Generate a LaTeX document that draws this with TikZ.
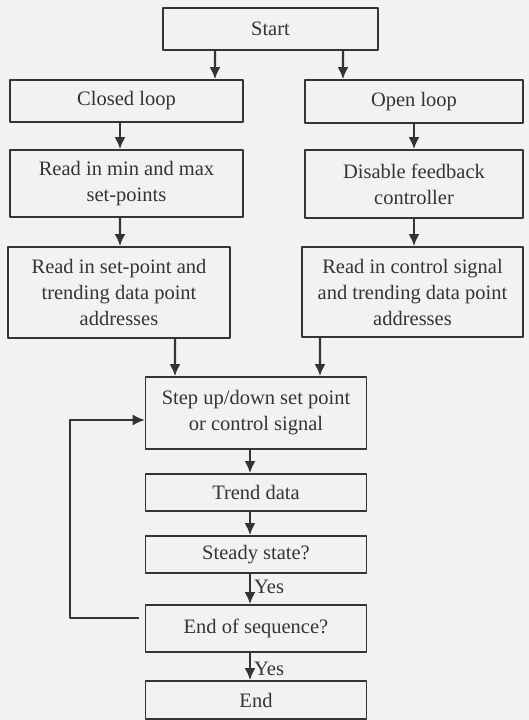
\documentclass[tikz,border=0pt]{standalone}
\usepackage{fontspec}
\setmainfont{Liberation Serif}
\usetikzlibrary{arrows.meta}
\definecolor{ink}{rgb}{0.2,0.2,0.22}
\definecolor{paper}{rgb}{0.95,0.95,0.95}

\begin{document}
\begin{tikzpicture}[>={Latex[length=12bp,width=11bp]},line join=bevel,
  box/.style={draw=ink,line width=1.6bp,inner sep=0pt,align=center,text=ink,
    font=\fontsize{20.5bp}{26bp}\selectfont},
  flow/.style={->,draw=ink,line width=2.4bp},
  back/.style={->,draw=ink,line width=1.6bp},
  yes/.style={text=ink,font=\fontsize{20.5bp}{24bp}\selectfont,inner sep=1bp}]
\fill [paper] (0bp,0bp) rectangle (529bp,720bp);
\useasboundingbox (0bp,0bp) rectangle (529bp,720bp);
%%
  % Node: start
  \node [box,minimum width=215bp,minimum height=42bp] (start) at (270.5bp,691bp) {Start};
  % Node: closed
  \node [box,minimum width=233bp,minimum height=42bp] (closed) at (126.5bp,619bp) {Closed loop};
  % Node: open
  \node [box,minimum width=218bp,minimum height=43bp] (open) at (414bp,618.5bp) {Open loop};
  % Node: minmax
  \node [box,minimum width=233bp,minimum height=67bp] (minmax) at (126.5bp,536.5bp) {Read in min and max\\set-points};
  % Node: disable
  \node [box,minimum width=218bp,minimum height=68bp] (disable) at (414bp,536bp) {Disable feedback\\controller};
  % Node: readsp
  \node [box,minimum width=222bp,minimum height=91bp] (readsp) at (119bp,427.5bp) {Read in set-point and\\trending data point\\addresses};
  % Node: readcs
  \node [box,minimum width=221bp,minimum height=90bp] (readcs) at (412.5bp,428bp) {Read in control signal\\and trending data point\\addresses};
  % Node: step
  \node [box,minimum width=221bp,minimum height=72bp] (step) at (256bp,307bp) {Step up/down set point\\or control signal};
  % Node: trend
  \node [box,minimum width=221bp,minimum height=37bp] (trend) at (256bp,227.5bp) {Trend data};
  % Node: steady
  \node [box,minimum width=221bp,minimum height=37bp] (steady) at (256bp,165.5bp) {Steady state?};
  % Node: endseq
  \node [box,minimum width=221bp,minimum height=47bp] (endseq) at (256bp,91.5bp) {End of sequence?};
  % Node: end
  \node [box,minimum width=221bp,minimum height=38bp] (end) at (256bp,20bp) {End};
%
  % Edge: start -> closed
  \draw [flow] ([xshift=-55.5bp]start.south) -- ([xshift=88.5bp]closed.north);
  % Edge: start -> open
  \draw [flow] ([xshift=72.5bp]start.south) -- ([xshift=-71bp]open.north);
  % Edge: closed -> minmax
  \draw [flow] ([xshift=-6.5bp]closed.south) -- ([xshift=-6.5bp]minmax.north);
  % Edge: open -> disable
  \draw [flow] (open.south) -- (open.south |- disable.north);
  % Edge: minmax -> readsp
  \draw [flow] ([xshift=-6.5bp]minmax.south) -- ([xshift=1bp]readsp.north);
  % Edge: disable -> readcs
  \draw [flow] (disable.south) -- (disable.south |- readcs.north);
  % Edge: readsp -> step
  \draw [flow] ([xshift=56bp]readsp.south) -- ([xshift=-81bp]step.north);
  % Edge: readcs -> step
  \draw [flow] ([xshift=-92.5bp]readcs.south) -- ([xshift=64bp]step.north);
  % Edge: step -> trend
  \draw [flow] ([xshift=-6bp]step.south) -- ([xshift=-6bp]trend.north);
  % Edge: trend -> steady
  \draw [flow] ([xshift=-6bp]trend.south) -- ([xshift=-6bp]steady.north);
  % Edge: steady -> endseq
  \draw [flow] ([xshift=-6bp]steady.south) -- ([xshift=-6bp]endseq.north)
    node [yes,midway,right=2bp,yshift=2bp] {Yes};
  % Edge: endseq -> end
  \draw [flow] ([xshift=-6bp]endseq.south) -- ([xshift=-6bp]end.north)
    node [yes,midway,right=2bp,yshift=-2bp] {Yes};
  % Edge: endseq -> step
  \draw [back] ([shift={(-6bp,10.5bp)}]endseq.west) -- ++(-69bp,0bp) |- ([yshift=-7bp]step.west);
%
\end{tikzpicture}
\end{document}
